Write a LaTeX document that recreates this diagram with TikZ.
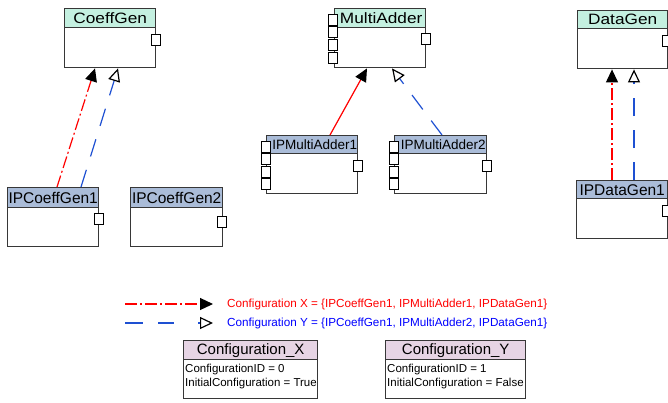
\documentclass[tikz,border=0pt]{standalone}
\usepackage{fontspec}
\setmainfont{Liberation Sans}
\newfontfamily\widefont{Liberation Sans}[FakeStretch=1.15]
\usetikzlibrary{arrows.meta}

\definecolor{mint}{RGB}{196,240,224}
\definecolor{ipblue}{RGB}{170,188,216}
\definecolor{cfgpink}{RGB}{230,212,228}
\definecolor{boxline}{RGB}{55,55,55}
\definecolor{lineblue}{RGB}{30,80,210}

\tikzset{
	block/.style={draw=boxline, line width=1.4pt, fill=white, anchor=north west, inner sep=0pt},
	head/.style={draw=boxline, line width=1.4pt, anchor=north west, inner sep=0pt},
	port/.style={draw=black, fill=white, line width=0.8pt, minimum width=9pt, minimum height=11pt, inner sep=0pt},
	confx/.style={red, line width=1.2pt, dash pattern=on 12pt off 3pt on 2pt off 3pt, -{Triangle[length=13pt, width=12pt, color=black]}},
	confy/.style={lineblue, line width=1.2pt, dash pattern=on 18pt off 14pt, -{Triangle[open, length=13pt, width=12pt, color=black]}},
}

% name, left, top, width, height, head height, head colour, title
\newcommand{\blockbox}[8]{%
	\node[block, minimum width=#4pt, minimum height=#5pt] (#1) at (#2,#3) {};
	\node[head, fill=#7, minimum width=#4pt, minimum height=#6pt] (#1h) at (#2,#3) {#8};
}
\newcommand{\basetitle}{\widefont\fontsize{15}{18}\selectfont}
\newcommand{\iptitle}{\fontsize{15.5}{18}\selectfont}

\begin{document}
\begin{tikzpicture}[x=1pt, y=-1pt]
	\useasboundingbox (0,0) rectangle (668,402);

	% base classes
	\blockbox{coeffgen}{64}{8}{91}{59}{19}{mint}{\basetitle CoeffGen}
	\blockbox{multiadder}{334}{8}{91}{59}{19}{mint}{\basetitle\hspace*{2pt}MultiAdder}
	\blockbox{datagen}{577}{10}{90}{58}{18}{mint}{\basetitle DataGen}
	\node[port] (pcg) at (156,39.5) {};
	\node[port] (pma) at (425.5,39) {};
	\node[port] (pdg) at (667,41) {};
	\foreach \k in {0,...,3} \node[port] (pmal\k) at (333,19.5+12.7*\k) {};

	% implementations
	\blockbox{ipcoeff1}{7}{187}{91}{59}{20}{ipblue}{\iptitle IPCoeffGen1}
	\blockbox{ipcoeff2}{130}{187}{92}{59}{20}{ipblue}{\iptitle IPCoeffGen2}
	\blockbox{ipmulti1}{266}{135}{91}{58}{18}{ipblue}{\fontsize{13.5}{16}\selectfont\hspace*{5pt}IPMultiAdder1}
	\blockbox{ipmulti2}{394}{135}{92}{58}{18}{ipblue}{\fontsize{13.5}{16}\selectfont\hspace*{5pt}IPMultiAdder2}
	\blockbox{ipdata1}{576}{180}{91}{58}{18}{ipblue}{\iptitle IPDataGen1}
	\node[port] (pic1) at (98.5,219) {};
	\node[port] (pic2) at (222,222) {};
	\node[port] (pim1) at (357.5,165.5) {};
	\node[port] (pim2) at (487,165.5) {};
	\node[port] (pid1) at (667,211) {};
	\foreach \k in {0,...,3} {
		\node[port] (pm1l\k) at (266,146.5+12.6*\k) {};
		\node[port] (pm2l\k) at (394,146.5+12.6*\k) {};
	}

	% configurations
	\draw[confx] ([xshift=50pt]ipcoeff1.north west) -- ([xshift=31pt]coeffgen.south west);
	\draw[confy] ([xshift=74pt]ipcoeff1.north west) -- ([xshift=54pt]coeffgen.south west);
	\draw[confx, solid] ([xshift=64pt]ipmulti1.north west) -- ([xshift=33pt]multiadder.south west);
	\draw[confy] ([xshift=48pt]ipmulti2.north west) -- ([xshift=58pt]multiadder.south west);
	\draw[confx] ([xshift=36pt]ipdata1.north west) -- ([xshift=35pt]datagen.south west);
	\draw[confy] ([xshift=58pt]ipdata1.north west) -- ([xshift=57pt]datagen.south west);

	% legend
	\coordinate (lx1) at (125,304);
	\coordinate (lx2) at (213,304);
	\coordinate (ly1) at (125,323);
	\coordinate (ly2) at (213,323);
	\draw[confx] (lx1) -- (lx2);
	\draw[confy, dash pattern=on 18pt off 15pt on 16pt off 24pt on 2pt off 10pt] (ly1) -- (ly2);
	\node[anchor=west, red, inner sep=0pt, font=\fontsize{11.7}{14}\selectfont] (legx) at (227,304) {Configuration X = \{IPCoeffGen1, IPMultiAdder1, IPDataGen1\}};
	\node[anchor=west, blue, inner sep=0pt, font=\fontsize{11.7}{14}\selectfont] (legy) at (227,323) {Configuration Y = \{IPCoeffGen1, IPMultiAdder2, IPDataGen1\}};

	\blockbox{confX}{183}{340}{134}{58}{19}{cfgpink}{\fontsize{15}{18}\selectfont Configuration\_X}
	\blockbox{confY}{385}{340}{140}{58}{19}{cfgpink}{\fontsize{15}{18}\selectfont Configuration\_Y}
	\node[anchor=north west, align=left, inner sep=0pt, font=\fontsize{11.5}{13.5}\selectfont] (confXtxt) at (185,364)
		{ConfigurationID = 0\\InitialConfiguration = True};
	\node[anchor=north west, align=left, inner sep=0pt, font=\fontsize{11.5}{13.5}\selectfont] (confYtxt) at (387,364)
		{ConfigurationID = 1\\InitialConfiguration = False};
\end{tikzpicture}
\end{document}
